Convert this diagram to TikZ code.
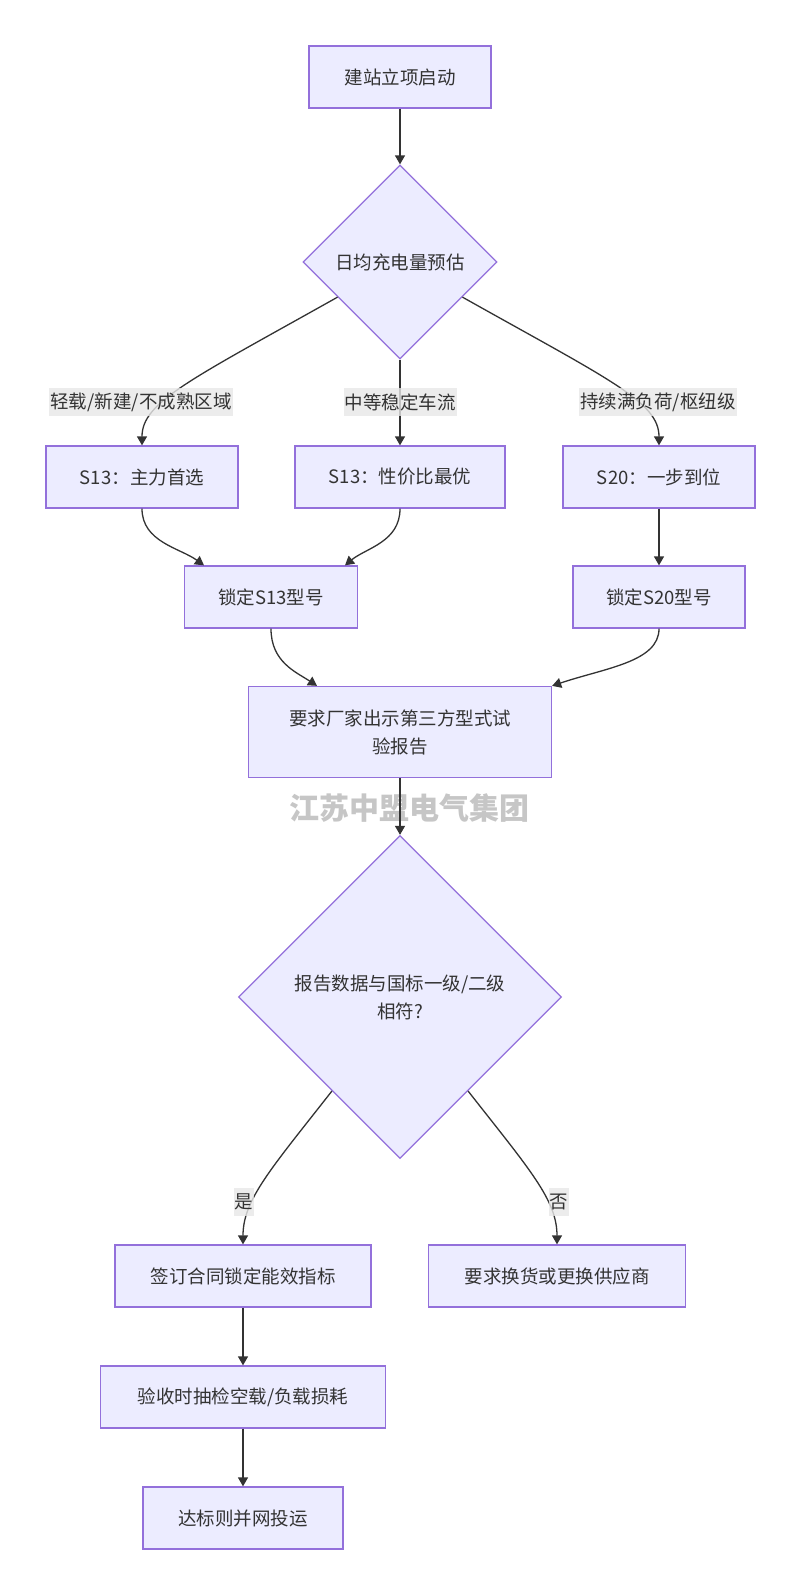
\documentclass[tikz,border=0pt]{standalone}
\usepackage{fontspec}
\setmainfont{Noto Sans CJK SC}
\usetikzlibrary{arrows.meta,shapes.geometric,calc}
\definecolor{nodefill}{HTML}{ECECFF}
\definecolor{nodeline}{HTML}{9370DB}
\definecolor{edgecol}{HTML}{333333}
\definecolor{txt}{HTML}{333333}
\definecolor{lblbg}{HTML}{E8E8E8}
\definecolor{wmark}{HTML}{C6C6C6}
\begin{document}
\begin{tikzpicture}[x=1pt,y=-1pt,
  box/.style={draw=nodeline,fill=nodefill,line width=1.3pt,minimum height=62pt,inner sep=0pt,text=txt,font=\fontsize{18.5}{28}\selectfont,align=center},
  dia/.style={diamond,aspect=1,draw=nodeline,fill=nodefill,line width=1.3pt,inner sep=0pt,text=txt,font=\fontsize{18.5}{28}\selectfont,align=center},
  lbl/.style={fill=lblbg,fill opacity=0.8,text opacity=1,text=txt,inner xsep=1pt,inner ysep=0pt,minimum height=28pt,font=\fontsize{18.5}{28}\selectfont},
  arr/.style={draw=edgecol,line width=1.3pt,-{Triangle[length=9pt,width=10pt]}},
  wm/.style={text=wmark,font=\fontsize{30}{34}\selectfont\bfseries}]
\useasboundingbox (0,0) rectangle (800,1595);
\fill[white] (0,0) rectangle (800,1595);

% nodes
\node[box,minimum width=182pt] (A) at (400,77) {建站立项启动};
\node[dia,minimum size=194pt] (B) at (400,262) {日均充电量预估};
\node[box,minimum width=192pt] (C1) at (142,477) {S13：主力首选};
\node[box,minimum width=210pt] (C2) at (400,477) {S13：性价比最优};
\node[box,minimum width=192pt] (C3) at (659,477) {S20：一步到位};
\node[box,minimum width=173pt] (D1) at (271,597) {锁定S13型号};
\node[box,minimum width=172pt] (D2) at (659,597) {锁定S20型号};
\node[box,minimum width=303pt,minimum height=91pt] (E) at (400,732) {要求厂家出示第三方型式试\\验报告};
\node[wm] (W) at (409,808) {江苏中盟电气集团};
\node[dia,minimum size=323pt] (F) at (400,997) {报告数据与国标一级/二级\\相符?};
\node[box,minimum width=256pt] (G1) at (243,1276) {签订合同锁定能效指标};
\node[box,minimum width=257pt] (G2) at (557,1276) {要求换货或更换供应商};
\node[box,minimum width=285pt] (H) at (243,1397) {验收时抽检空载/负载损耗};
\node[box,minimum width=200pt] (I) at (243,1518) {达标则并网投运};

% edges
\draw[arr] (A.south) -- (B.north);
\draw[arr] ($(B.west)!0.36!(B.south)$) .. controls (190,380) and (142,402) .. (C1.north);
\draw[arr] (B.south) -- (C2.north);
\draw[arr] ($(B.east)!0.36!(B.south)$) .. controls (610,380) and (659,402) .. (C3.north);
\draw[arr] (C1.south) .. controls (142,542) and (180,548) .. ([xshift=-67pt]D1.north);
\draw[arr] (C2.south) .. controls (400,542) and (366,548) .. ([xshift=74pt]D1.north);
\draw[arr] (C3.south) -- (D2.north);
\draw[arr] (D1.south) .. controls (271,662) and (296,672) .. ([xshift=-83pt]E.north);
\draw[arr] (D2.south) .. controls (659,662) and (605,668) .. (E.north east);
\draw[arr] (E.south) -- (F.north);
\draw[arr] ($(F.west)!0.58!(F.south)$) .. controls (270,1170) and (243,1200) .. (G1.north);
\draw[arr] ($(F.east)!0.58!(F.south)$) .. controls (530,1170) and (557,1200) .. (G2.north);
\draw[arr] (G1.south) -- (H.north);
\draw[arr] (H.south) -- (I.north);

% edge labels
\node[lbl] (L1) at (141,402) {轻载/新建/不成熟区域};
\node[lbl] (L2) at (400,402) {中等稳定车流};
\node[lbl] (L3) at (658,402) {持续满负荷/枢纽级};
\node[lbl] (L4) at (244,1202) {是};
\node[lbl] (L5) at (559,1202) {否};
\end{tikzpicture}
\end{document}
